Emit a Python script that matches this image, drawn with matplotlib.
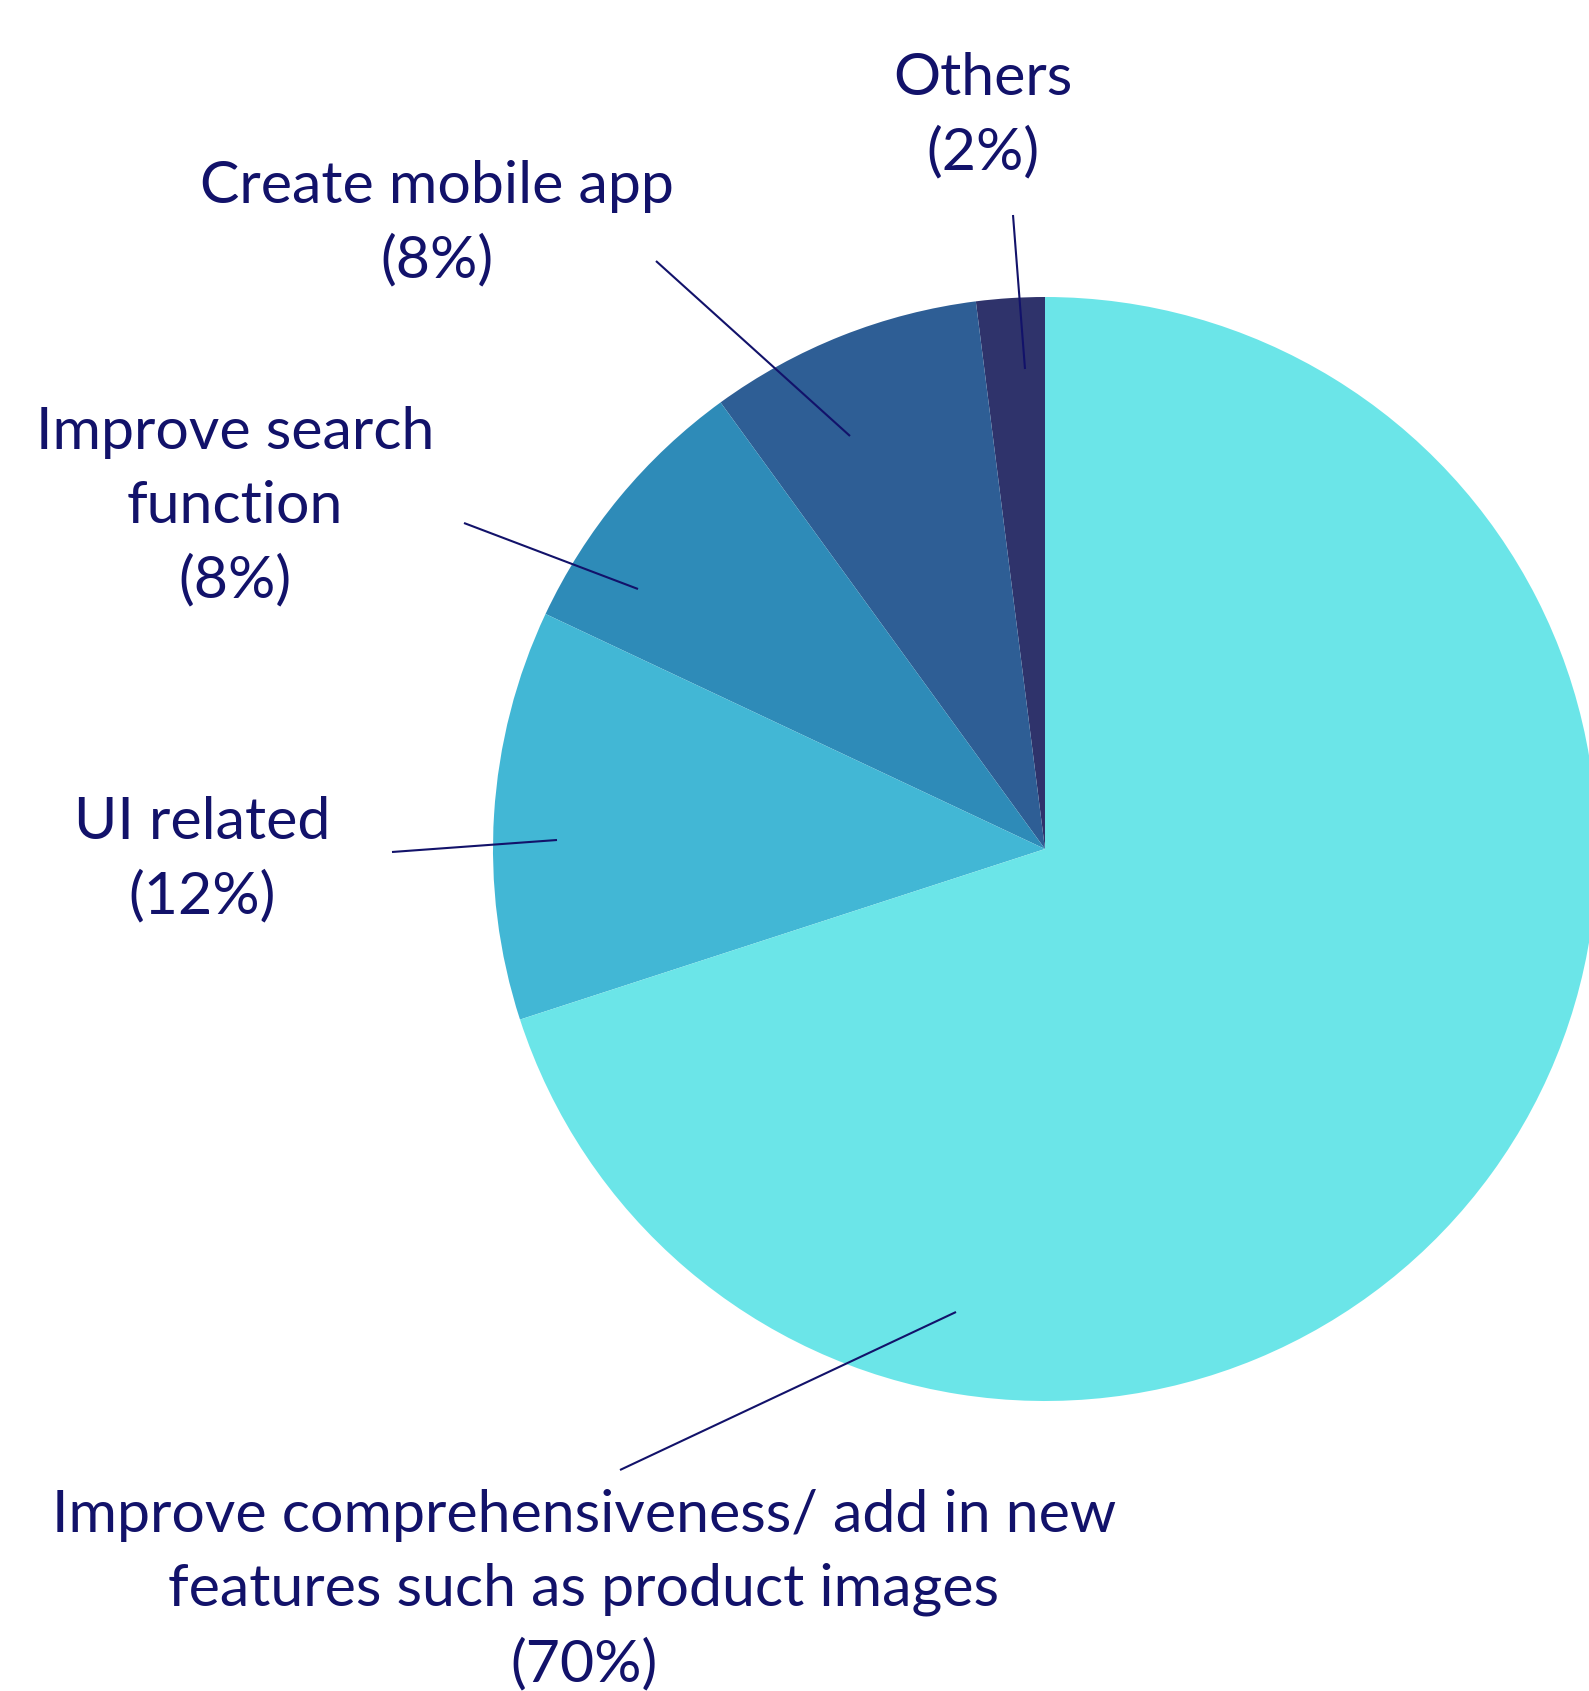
import matplotlib
matplotlib.use("Agg")
import matplotlib.pyplot as plt

# Data
categories = ["Others", "Create mobile app", "Improve search\nfunction", "UI related",
              "Improve comprehensiveness/ add in new\nfeatures such as product images"]
values = [2, 8, 8, 12, 70]
colors = ["#2F336B", "#2E5E95", "#2E8BB8", "#42B7D5", "#6BE5E8"]

W, H = 1589, 1691
fig = plt.figure(figsize=(W / 100, H / 100), dpi=100)
ax = fig.add_axes([0, 0, 1, 1])

cx, cy, R = 1045, H - 849, 552
ax.pie(values, colors=colors, startangle=90, counterclock=True,
       center=(cx, cy), radius=R, frame=True,
       wedgeprops=dict(linewidth=0))
ax.set_xlim(0, W)
ax.set_ylim(0, H)
ax.set_aspect("equal")
ax.axis("off")

txt_color = "#12126A"
# label layout: (text center x, text center y in image px, line start, line end)
layout = [
    ((983, 116), (1013, 215), (1025, 369)),
    ((437, 224), (656, 261), (850, 436)),
    ((235, 507), (464, 523), (638, 589)),
    ((202, 860), (392, 852), (557, 840)),
    ((584, 1590), (620, 1470), (956, 1312)),
]

for cat, val, (tpos, p0, p1) in zip(categories, values, layout):
    label = f"{cat}\n({val}%)"
    ax.text(tpos[0], H - tpos[1], label, ha="center", va="center",
            fontsize=42.5, family=["Lato", "DejaVu Sans"], color=txt_color,
            linespacing=1.48, multialignment="center")
    ax.plot([p0[0], p1[0]], [H - p0[1], H - p1[1]], color=txt_color, lw=1.5,
            solid_capstyle="butt")

fig.savefig("out.png", dpi=100, facecolor="white")
